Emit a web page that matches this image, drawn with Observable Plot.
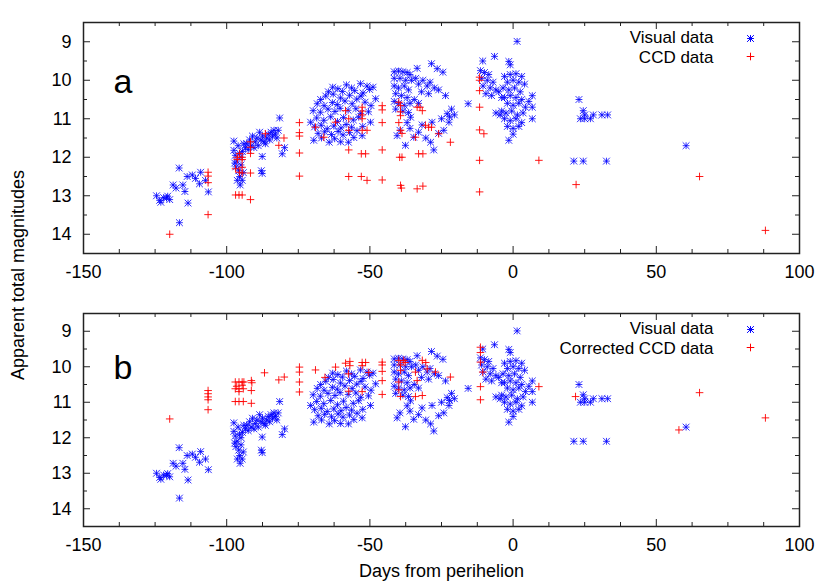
<!DOCTYPE html>
<html>
<head>
<meta charset="utf-8">
<script src="https://cdn.jsdelivr.net/npm/d3@7"></script>
<script src="https://cdn.jsdelivr.net/npm/@observablehq/plot@0.6"></script>
<style>
  body { margin: 0; background: white; }
  #wrap { position: relative; width: 830px; height: 581px; font-family: "Liberation Sans", Arial, Helvetica, sans-serif; }
  #wrap .panel { position: absolute; left: 0; }
  #ylab { position: absolute; left: 18px; top: 275px; transform: translate(-50%, -50%) rotate(-90deg); white-space: nowrap; font-size: 18px; color: black; }
</style>
</head>
<body>
<div id="wrap"></div>
<script>
// ---- tick labels ----
const xMajor = [-150, -100, -50, 0, 50, 100];
const xMinor = [-137.5, -125, -112.5, -87.5, -75, -62.5, -37.5, -25, -12.5, 12.5, 25, 37.5, 62.5, 75, 87.5];
const yMajor = [9, 10, 11, 12, 13, 14];
const yMinor = [9.5, 10.5, 11.5, 12.5, 13.5];

// ---- Visual data (days from perihelion, magnitude) — same in both panels ----
const visualData = [
  [-124.5,13.0],[-123.4,13.12],[-123,13.17],[-122,13.05],[-121,13.06],[-120.6,13.01],[-119.9,13.1],
  [-116.5,13.7],[-116.6,12.28],[-118.7,12.72],[-117.7,12.8],[-115.3,12.72],[-114.6,12.89],[-113.5,13.19],
  [-113.8,12.5],[-112,12.46],[-110.9,12.55],[-109.5,12.69],[-109.1,12.39],[-107.4,12.6],[-106.4,12.9],
  [-97.5,11.58],[-97.5,11.82],[-97,11.95],[-96.5,12.1],[-96,11.7],[-95.5,11.9],[-95,12.0],[-94.5,11.85],
  [-96.8,12.25],[-95.8,12.35],[-95,12.2],[-94.6,12.6],[-96.3,12.6],[-95.5,12.5],[-94,11.65],[-93.5,11.75],
  [-94.2,12.4],[-97.2,12.15],[-95.3,12.72],
  [-93,11.65],[-92,11.55],[-91.5,11.7],[-91,11.45],[-90,11.6],[-89.5,11.5],[-89,11.7],[-88,11.55],
  [-87.5,11.45],[-87,11.6],[-86,11.5],[-85.5,11.4],[-85,11.55],[-84.5,11.35],[-84,11.45],[-83.5,11.3],
  [-83,11.4],[-82.5,11.5],[-82,11.3],[-81.5,10.98],[-87.6,11.98],[-87.6,12.42],[-87.9,12.35],[-80.6,11.91],
  [-79.8,11.75],[-92.5,11.8],[-90.5,11.75],[-88.5,11.35],[-86.5,11.65],
  [-63,10.18],[-58.2,10.12],[-56.4,10.2],[-53.3,10.09],[-51,10.15],[-48.9,10.18],
  [-64.5,10.3],[-61.2,10.22],[-59.6,10.29],[-55.3,10.27],[-52.4,10.33],[-50.1,10.24],
  [-67.2,10.5],[-65.4,10.41],[-62.8,10.36],[-60.3,10.46],[-57.1,10.39],[-54.6,10.49],[-53.1,10.41],[-48,10.48],
  [-68.4,10.61],[-66,10.66],[-63.1,10.58],[-61.4,10.63],[-58.7,10.54],[-56.2,10.61],[-51.7,10.57],[-49.6,10.66],
  [-69.8,10.79],[-67.3,10.83],[-64.6,10.75],[-62.2,10.81],[-60.4,10.73],[-57.6,10.78],[-54.9,10.74],[-53.2,10.86],[-50.5,10.82],
  [-70.7,11.09],[-68.6,10.98],[-66.1,11.04],[-63.7,10.95],[-61.3,11.07],[-59.2,10.97],[-55.8,11.03],[-53.9,10.96],[-49.8,11.09],
  [-69.3,11.21],[-67,11.17],[-64.9,11.26],[-62.6,11.19],[-60.1,11.24],[-58.3,11.15],[-56.4,11.22],[-52.5,11.2],
  [-68.1,11.38],[-65.8,11.34],[-63.4,11.41],[-61.1,11.33],[-59.4,11.42],[-57.1,11.36],[-54.5,11.31],[-52.7,11.44],
  [-69.6,11.56],[-66.9,11.5],[-64.2,11.61],[-62.3,11.52],[-60.2,11.6],[-57.5,11.61],[-55.6,11.49],
  [-41.5,9.78],[-40,9.76],[-38.5,9.78],[-37,9.8],[-36,9.85],[-41.5,9.95],[-39.5,9.95],[-37.5,10.0],[-35.5,10.0],
  [-41.5,10.15],[-40,10.2],[-38,10.15],[-36.5,10.25],[-41,10.35],[-39,10.4],[-37,10.45],[-41.5,10.55],[-40,10.6],
  [-38,10.65],[-36,10.6],[-41,10.75],[-38.5,10.8],[-36.5,10.84],[-35.8,10.96],
  [-34,9.95],[-33,10.1],[-31.5,10.0],[-30,10.15],[-29,10.05],[-27.5,10.2],[-26,10.25],[-32,10.3],[-29.5,10.35],
  [-23.6,10.4],[-33.5,9.69],[-28.5,9.57],[-26.5,9.7],[-24.5,9.79],[-34.5,10.5],[-33,10.6],
  [-40.5,11.44],[-37.6,11.69],[-34.7,11.48],[-28.8,11.61],[-27.7,11.81],[-39.5,11.3],[-36,11.25],[-31.8,11.16],
  [-28.3,11.09],[-24.2,11.3],[-22.4,11.09],[-23,10.87],[-22.2,10.95],[-25,11.0],[-37,11.1],[-33,11.35],
  [-30.5,11.5],[-21.5,10.75],[-20.5,10.9],[-26,11.38],[-15.7,10.61],
  [-10.6,9.5],[-6.5,9.38],[-1.5,9.51],[-1,9.6],[1.4,8.99],
  [-11.4,9.75],[-10,9.8],[-8.5,9.85],[-11,9.95],[-9,10.0],[-7,10.05],[-10.5,10.15],[-8,10.2],[-6,10.25],
  [-9.5,10.35],[-7.5,10.4],[-5,10.3],[-4,10.45],
  [-3,9.9],[-1,9.85],[1,9.83],[3,9.9],[-2,10.05],[0,10.0],[2,10.05],[4,10.1],[-3.5,10.2],[-1.5,10.25],
  [0.5,10.2],[2.5,10.3],[-3,10.45],[-1,10.4],[1,10.45],[3,10.5],[-2,10.6],[0,10.65],[2,10.6],[4.3,10.7],
  [-4,10.8],[-2.5,10.85],[-0.5,10.8],[1.5,10.9],[3.5,10.85],[-3,11.0],[-1,11.05],[1,11.0],[3,11.1],
  [-2,11.2],[0,11.25],[2,11.2],[-1.5,11.56],[0,11.4],[6.7,10.4],[6.7,10.7],[6.7,11.0],[5.5,10.55],
  [-6,10.85],[-4.5,10.9],
  [23,10.5],[24.5,10.79],[23.5,11.0],[25,11.0],[27,11.0],[25,10.9],[28,10.9],[31,10.9],[33,10.9],
  [21.2,12.1],[24.5,12.1],[32.6,12.1],[60.4,11.7]
];

// ---- CCD data (panel a) ----
const ccdData = [
  [-119.9,14.0],[-106.5,12.39],[-106.5,12.49],[-106.5,12.66],[-106.5,13.49],
  [-96.3,12.0],[-96.3,12.06],[-96.9,12.3],[-95.5,12.39],[-94.6,12.26],[-94.6,12.41],[-94.6,12.0],[-94.6,12.06],
  [-95.5,11.9],[-96.9,12.98],[-95.7,12.98],[-94.6,12.98],
  [-91.7,11.74],[-91.7,11.6],[-91.7,11.9],[-91.7,12.41],[-91.7,13.1],[-86.5,11.39],[-81.8,11.69],[-80,11.5],
  [-74.6,11.1],[-74.6,11.36],[-74.6,11.45],[-74.6,11.89],[-74.6,12.49],
  [-69,11.22],[-66.1,11.48],[-62,11.09],[-58.5,10.79],[-57.4,11.0],[-57.4,11.3],[-57.4,11.81],[-57.4,12.5],
  [-52.7,10.7],[-52.7,10.8],[-52.7,10.9],[-52.7,11.0],[-52.7,11.3],[-51,11.3],[-53,11.91],[-51.5,11.91],
  [-53,12.5],[-51,12.6],[-45.7,10.66],[-45.7,10.77],[-45.7,11.1],[-45.7,11.81],[-45.7,12.59],
  [-39.9,10.57],[-39.3,10.66],[-39.3,10.82],[-39.3,10.92],[-39.9,11.1],[-39.3,11.3],[-38.8,11.38],
  [-33.5,10.7],[-32.5,10.7],[-31.7,10.79],[-34.1,11.48],[-30.6,11.17],[-29.5,11.22],[-28.5,11.22],
  [-26,11.39],[-21.9,11.61],[-39.6,12.0],[-38.8,12.0],[-33,11.91],[-31.5,11.91],
  [-39.3,12.73],[-39,12.8],[-33.5,12.82],[-31.5,12.75],
  [-11.7,9.92],[-11.7,10.0],[-11.7,10.27],[-11.7,10.7],[-11.7,11.29],[-10.2,11.39],[-11.7,12.08],[-11.7,12.9],
  [9,12.08],[22,12.71],[65.1,12.5],[88.1,13.9]
];

// ---- Corrected CCD data (panel b) ----
const correctedCcdData = [
  [-119.9,11.47],[-106.5,10.67],[-106.5,10.76],[-106.5,10.85],[-106.5,10.93],[-106.5,11.21],
  [-97,10.43],[-95.7,10.43],[-94.6,10.43],[-94,10.43],[-97,10.62],[-95.7,10.62],[-94.2,10.62],[-95.7,10.7],
  [-97,10.98],[-95.7,10.98],[-94.2,10.98],[-96.5,10.55],[-94.6,10.52],
  [-91.4,10.39],[-91.2,10.45],[-91.4,10.67],[-91.4,11.03],[-86.8,10.17],[-81.8,10.37],[-79.9,10.29],
  [-74.6,10.01],[-74.6,10.15],[-74.6,10.43],[-74.6,10.71],[-69,10.09],[-65.7,10.3],[-62,10.01],
  [-58.5,9.9],[-57,9.85],[-57,9.97],[-57.5,10.2],[-57.4,10.69],[-52.7,9.88],[-51.5,9.88],[-52.7,9.97],
  [-52.7,10.7],[-50.4,10.16],[-45.7,9.87],[-45.7,9.95],[-45.7,10.13],[-45.7,10.39],[-45.7,10.78],
  [-39.9,9.82],[-39.3,9.95],[-39.3,10.1],[-39.9,10.43],[-39.9,10.65],[-39.3,10.84],[-38.2,9.82],[-37.7,9.88],
  [-34.1,10.15],[-33.5,10.39],[-34.1,10.84],[-31.7,10.81],[-31.7,9.82],[-30.5,9.88],[-30,10.06],
  [-27.1,10.15],[-21.9,10.29],
  [-11.4,9.45],[-11.4,9.6],[-11.4,9.87],[-10.6,10.15],[-11.4,10.56],[-11.4,10.93],
  [9,10.56],[21.8,10.84],[57.9,11.78],[65.1,10.73],[88.1,11.44]
];

// ---- gnuplot-like point symbols ----
const asteriskSym = {
  draw(ctx, size) {
    const r = Math.sqrt(size / Math.PI);
    ctx.moveTo(-r, 0); ctx.lineTo(r, 0);
    ctx.moveTo(0, -r); ctx.lineTo(0, r);
    ctx.moveTo(-r, -r); ctx.lineTo(r, r);
    ctx.moveTo(-r, r); ctx.lineTo(r, -r);
  }
};
const plusSym = {
  draw(ctx, size) {
    const r = Math.sqrt(size / Math.PI);
    ctx.moveTo(-r, 0); ctx.lineTo(r, 0);
    ctx.moveTo(0, -r); ctx.lineTo(0, r);
  }
};

const BLUE = "#0000ff", RED = "#ff0000";
const FONT = '"Liberation Sans", Arial, Helvetica, sans-serif';

function panel({height, marginTop, marginBottom, ccd, letter, letterDy, ccdLabel, xLabel}) {
  const H = height - marginTop - marginBottom;
  const W = 830 - 83 - 31;
  return Plot.plot({
    width: 830, height, marginLeft: 83, marginRight: 31, marginTop, marginBottom,
    x: {domain: [-150, 100]},
    y: {domain: [8.5, 14.5], reverse: true},
    style: {fontFamily: FONT, fontSize: "18px", background: "white", color: "black", overflow: "visible"},
    marks: [
      // inward ticks on all four sides
      Plot.ruleX(xMajor, {x: d => d, insetTop: H - 7, stroke: "#222"}),
      Plot.ruleX(xMajor, {x: d => d, insetBottom: H - 7, stroke: "#222"}),
      Plot.ruleX(xMinor, {x: d => d, insetTop: H - 4, stroke: "#222"}),
      Plot.ruleX(xMinor, {x: d => d, insetBottom: H - 4, stroke: "#222"}),
      Plot.ruleY(yMajor, {y: d => d, insetRight: W - 7, stroke: "#222"}),
      Plot.ruleY(yMajor, {y: d => d, insetLeft: W - 7, stroke: "#222"}),
      Plot.ruleY(yMinor, {y: d => d, insetRight: W - 4, stroke: "#222"}),
      Plot.ruleY(yMinor, {y: d => d, insetLeft: W - 4, stroke: "#222"}),
      Plot.axisX(xMajor, {tickSize: 0, tickPadding: 12, label: null, tickFormat: d => String(d), fontSize: 18}),
      Plot.axisY(yMajor, {tickSize: 0, tickPadding: 12, label: null, tickFormat: d => String(d), fontSize: 18}),
      Plot.dot(visualData, {x: d => d[0], y: d => d[1], symbol: asteriskSym, r: 3.4, fill: "none", stroke: BLUE, strokeWidth: 1, strokeOpacity: 0.8}),
      Plot.dot(ccd, {x: d => d[0], y: d => d[1], symbol: plusSym, r: 3.8, fill: "none", stroke: RED, strokeWidth: 1, strokeOpacity: 0.9}),
      Plot.frame({stroke: "#222", strokeWidth: 1.5}),
      Plot.text([letter], {text: d => d, frameAnchor: "top-left", dx: 30, dy: letterDy, textAnchor: "start", lineAnchor: "bottom", fontSize: 34}),
      Plot.text(["Visual data"], {text: d => d, frameAnchor: "top-right", dx: -86, dy: 15, textAnchor: "end", lineAnchor: "middle", fontSize: 17}),
      Plot.text([ccdLabel], {text: d => d, frameAnchor: "top-right", dx: -86, dy: 35, textAnchor: "end", lineAnchor: "middle", fontSize: 17}),
      Plot.dot([0], {frameAnchor: "top-right", dx: -49, dy: 16, symbol: asteriskSym, r: 3.4, fill: "none", stroke: BLUE, strokeWidth: 1}),
      Plot.dot([0], {frameAnchor: "top-right", dx: -49, dy: 34, symbol: plusSym, r: 3.8, fill: "none", stroke: RED, strokeWidth: 1}),
      xLabel ? Plot.text([xLabel], {text: d => d, frameAnchor: "bottom", dy: 45, lineAnchor: "middle", fontSize: 18}) : null
    ]
  });
}

const wrap = document.getElementById("wrap");
const a = panel({height: 290, marginTop: 22, marginBottom: 37, ccd: ccdData, letter: "a", letterDy: 70, ccdLabel: "CCD data"});
a.classList.add("panel"); a.style.top = "0px";
const b = panel({height: 291, marginTop: 23, marginBottom: 55, ccd: correctedCcdData, letter: "b", letterDy: 65, ccdLabel: "Corrected CCD data", xLabel: "Days from perihelion"});
b.classList.add("panel"); b.style.top = "290px";
wrap.appendChild(a);
wrap.appendChild(b);
const yl = document.createElement("div");
yl.id = "ylab";
yl.textContent = "Apparent total magnitudes";
wrap.appendChild(yl);
</script>
</body>
</html>
